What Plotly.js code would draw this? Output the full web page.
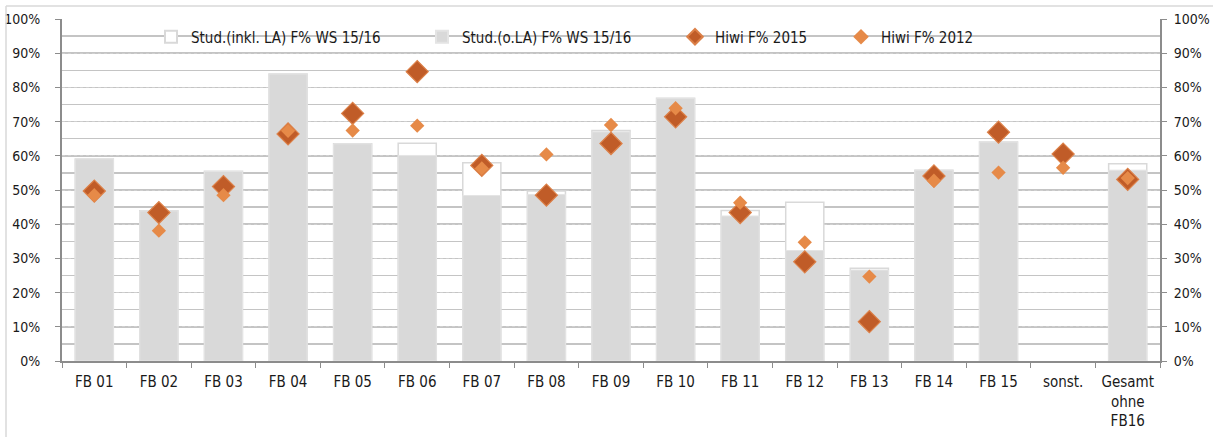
<!DOCTYPE html>
<html>
<head>
<meta charset="utf-8">
<script src="https://cdn.plot.ly/plotly-3.0.1.min.js"></script>
<style>html,body{margin:0;padding:0;background:#fff;}#chart{width:1213px;height:437px;}</style>
</head>
<body>
<div id="chart"></div>
<script>
const categories = ['FB 01','FB 02','FB 03','FB 04','FB 05','FB 06','FB 07','FB 08','FB 09','FB 10','FB 11','FB 12','FB 13','FB 14','FB 15','sonst.','Gesamt<br>ohne<br>FB16'];
const studInkl = [59.1,43.9,55.5,83.9,63.5,63.7,58.0,49.7,67.4,76.8,44.0,46.4,27.1,55.8,64.0,null,57.7];
const studOhne = [59.1,43.9,55.4,83.9,63.5,60.1,48.4,48.7,67.0,76.8,42.4,32.3,26.6,55.8,64.0,null,55.8];
const hiwi2015 = [49.7,43.4,51.0,66.4,72.4,84.6,57.2,48.5,63.6,71.4,43.4,29.0,11.5,54.1,66.9,60.5,53.1];
const hiwi2012 = [48.5,38.1,48.5,67.3,67.4,68.8,56.3,60.4,69.0,73.9,46.3,34.7,24.7,52.7,55.1,56.5,53.5];
const yTicks = [0,10,20,30,40,50,60,70,80,90,100];
const yTickLabels = ['0%','10%','20%','30%','40%','50%','60%','70%','80%','90%','100%'];

const FONT = '"DejaVu Sans Condensed", "Liberation Sans Narrow", "Roboto Condensed", sans-serif';
const W = 1213, H = 437, L = 62, R = 53, T = 19, B = 76;
const pw = W - L - R, ph = H - T - B;
const px = v => (v - L) / pw;
const py = v => (H - B - v) / ph;

const traces = [
  {type:'bar', name:'Stud.(inkl. LA) F% WS 15/16', x:categories, y:studInkl,
   marker:{color:'#ffffff', line:{color:'#d9d9d9', width:1.5}}, legend:'legend', hoverinfo:'skip'},
  {type:'bar', name:'Stud.(o.LA) F% WS 15/16', x:categories, y:studOhne,
   marker:{color:'#d9d9d9', line:{color:'#e4e4e4', width:1}}, legend:'legend2'},
  {type:'scatter', mode:'markers', name:'Hiwi F% 2015', x:categories, y:hiwi2015,
   marker:{symbol:'diamond', size:17, color:'#c05c28', line:{color:'#dc8048', width:1.2}}, legend:'legend3'},
  {type:'scatter', mode:'markers', name:'Hiwi F% 2012', x:categories, y:hiwi2012,
   marker:{symbol:'diamond', size:11, color:'#e68a48', line:{width:0}}, legend:'legend4'},
  {type:'scatter', mode:'markers', x:categories, y:hiwi2012, yaxis:'y2', showlegend:false,
   marker:{opacity:0}, hoverinfo:'skip'}
];

const legBase = {orientation:'h', yanchor:'middle', y:py(37), xanchor:'left', bgcolor:'rgba(0,0,0,0)',
  font:{family:FONT, size:15, color:'#1a1a1a'}, itemsizing:'constant'};

const yCommon = {range:[0,100], tickmode:'array', tickvals:yTicks, ticktext:yTickLabels, ticks:'outside', ticklen:5,
  tickcolor:'#8c8c8c', showline:true, linecolor:'#8c8c8c', linewidth:2, zeroline:false,
  tickfont:{family:FONT, size:14, color:'#1a1a1a'}, fixedrange:true};

const layout = {
  width:W, height:H, margin:{l:L, r:R, t:T, b:B},
  paper_bgcolor:'#ffffff', plot_bgcolor:'#ffffff',
  barmode:'overlay', bargap:0.41,
  font:{family:FONT, size:15, color:'#1a1a1a'},
  xaxis:{type:'category', range:[-0.5, categories.length - 0.5], tickson:'boundaries', ticks:'outside', ticklen:5, tickcolor:'#8c8c8c',
    showline:true, linecolor:'#8c8c8c', linewidth:2, showgrid:false, tickangle:0,
    tickfont:{family:FONT, size:15, color:'#1a1a1a'}, ticklabelstandoff:6},
  yaxis:Object.assign({}, yCommon, {side:'left', showgrid:true, gridcolor:'#cfcfcf', griddash:'dot', gridwidth:1,
    ticklabelstandoff:12,
    minor:{dtick:5, tick0:0, showgrid:true, gridcolor:'#c4c4c4', gridwidth:1.5, griddash:'solid', ticks:''}}),
  yaxis2:Object.assign({}, yCommon, {overlaying:'y', side:'right', showgrid:false, ticklabelstandoff:4}),
  legend:Object.assign({}, legBase, {x:px(151)}),
  legend2:Object.assign({}, legBase, {x:px(422)}),
  legend3:Object.assign({}, legBase, {x:px(675)}),
  legend4:Object.assign({}, legBase, {x:px(841)}),
  shapes:[
    {type:'line', xref:'paper', yref:'paper', x0:px(6), x1:px(6), y0:py(6), y1:py(437), line:{color:'#d9d9d9', width:1.5}},
    {type:'line', xref:'paper', yref:'paper', x0:px(6), x1:px(1213), y0:py(6), y1:py(6), line:{color:'#d9d9d9', width:1.5}}
  ],
  showlegend:true
};

Plotly.newPlot('chart', traces, layout, {displayModeBar:false, staticPlot:true});
</script>
</body>
</html>
